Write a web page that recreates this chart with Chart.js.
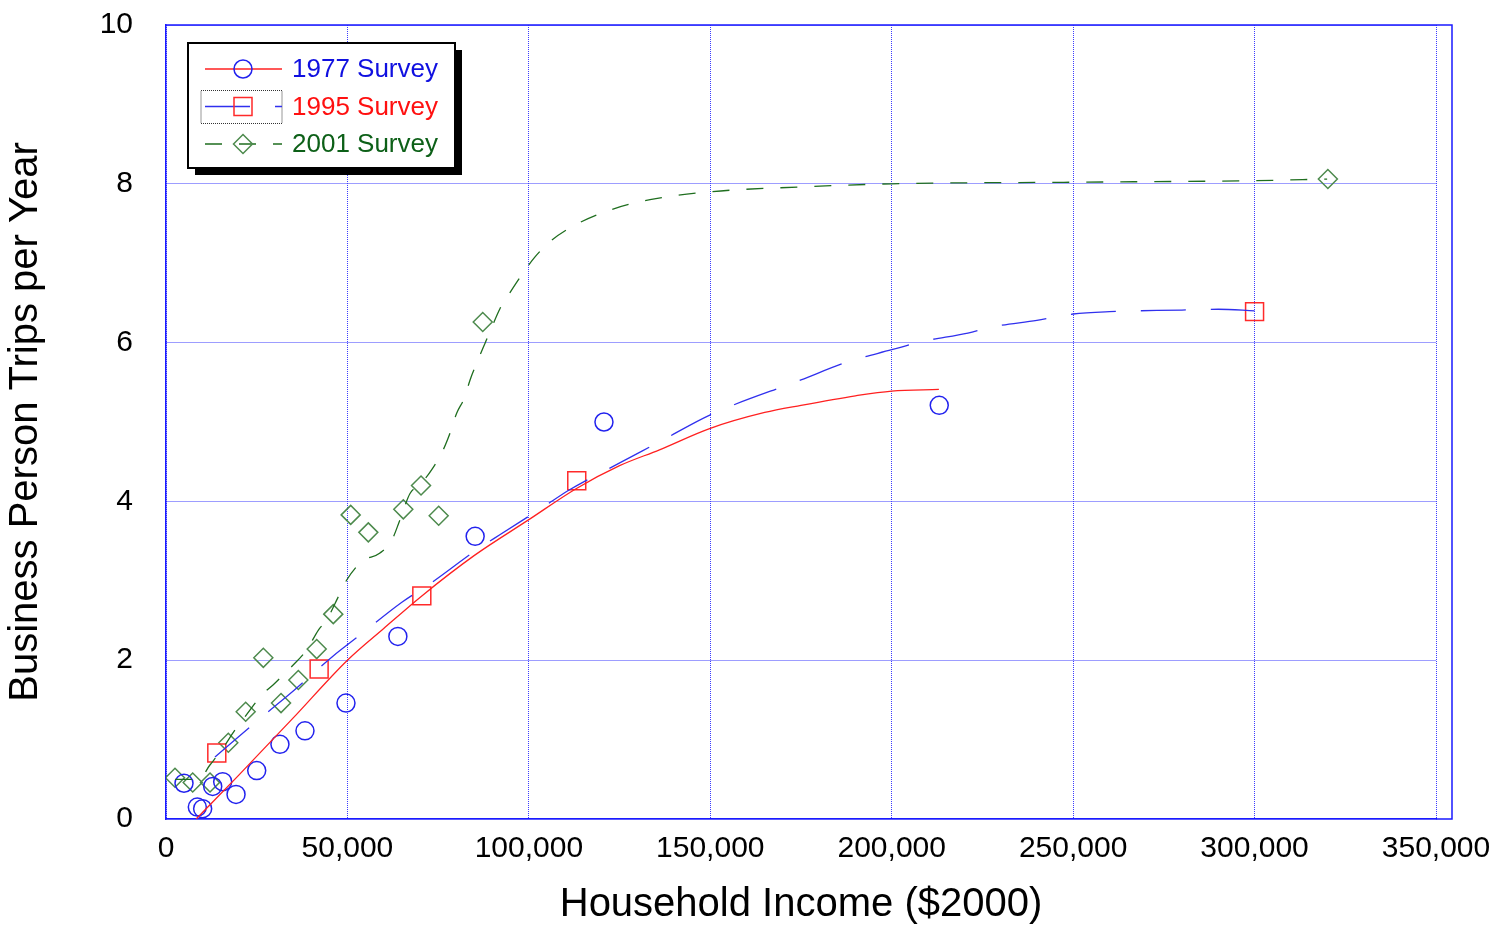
<!DOCTYPE html>
<html>
<head>
<meta charset="utf-8">
<title>Business Person Trips per Year</title>
<script src="https://cdn.jsdelivr.net/npm/chart.js@4.4.1/dist/chart.umd.min.js"></script>
<style>
  body { margin: 0; background: #fff; }
  canvas { display: block; }
</style>
</head>
<body>
<canvas id="trips-chart" width="1499" height="929"></canvas>
<script>
// Survey points (income in $2000, trips per year)
const survey1977X = [4960, 8630, 10100, 12870, 15620, 19300, 25000, 31400, 38300, 49600, 63900, 85200, 120700, 213100];
const survey1977Y = [0.45, 0.15, 0.13, 0.41, 0.47, 0.31, 0.61, 0.94, 1.11, 1.46, 2.30, 3.56, 5.00, 5.21];

const survey1995X = [14000, 42200, 70500, 113200, 300000];
const survey1995Y = [0.83, 1.89, 2.81, 4.26, 6.39];

const survey2001X = [2480, 7360, 12130, 17170, 21960, 26820, 31700, 36470, 41530, 46100, 50900, 55760, 65400, 70280, 75150, 87290, 320200];
const survey2001Y = [0.52, 0.46, 0.46, 0.96, 1.35, 2.03, 1.46, 1.75, 2.14, 2.58, 3.83, 3.61, 3.90, 4.20, 3.82, 6.26, 8.06];

// Fitted curves
const fit1977X = [8300, 20000, 35000, 50000, 60000, 70500, 85000, 100000, 113000, 125000, 136000, 150000, 165000, 175000, 190000, 200000, 213000];
const fit1977Y = [0, 0.55, 1.27, 2.0, 2.4, 2.81, 3.32, 3.77, 4.16, 4.45, 4.65, 4.92, 5.12, 5.21, 5.33, 5.39, 5.41];

const fit1995X = [13500, 26000, 34000, 46000, 53000, 65000, 73000, 85000, 92000, 104000, 111000, 124000, 136000, 150000, 175000, 188000, 200000, 208000, 221000, 228000, 240000, 250000, 260000, 280000, 290000, 300000];
const fit1995Y = [0.78, 1.27, 1.57, 2.05, 2.30, 2.73, 2.97, 3.37, 3.58, 3.93, 4.14, 4.46, 4.75, 5.09, 5.53, 5.76, 5.91, 6.01, 6.12, 6.20, 6.28, 6.36, 6.39, 6.41, 6.42, 6.40];

const fit2001X = [2500, 9000, 12100, 15350, 19000, 21800, 26400, 30000, 34650, 38780, 42000, 44300, 47500, 49800, 53900, 58980, 62200, 64500, 67250, 70000, 73240, 76400, 78280, 80100, 82200, 83800, 85800, 87900, 89750, 92060, 94800, 98300, 101700, 106300, 112700, 122400, 133400, 150000, 174700, 200000, 250000, 300000, 320000];
const fit2001Y = [0.5, 0.5, 0.68, 0.87, 1.12, 1.29, 1.56, 1.71, 1.92, 2.13, 2.38, 2.51, 2.80, 3.01, 3.24, 3.35, 3.51, 3.77, 4.10, 4.21, 4.40, 4.65, 4.86, 5.11, 5.30, 5.53, 5.76, 5.99, 6.19, 6.43, 6.63, 6.87, 7.08, 7.29, 7.48, 7.67, 7.80, 7.90, 7.96, 8.0, 8.02, 8.04, 8.06];

const xTicks = [0, 50000, 100000, 150000, 200000, 250000, 300000, 350000];
const yTicks = [0, 2, 4, 6, 8, 10];

const axisBlue = '#1a1aff';
const gridBlue = '#3b3bff';
const font = "'Liberation Sans', Arial, Helvetica, sans-serif";

const toPoints = (xs, ys) => xs.map((x, i) => ({ x: x, y: ys[i] }));

// legend rows: line colour/dash + marker + text colour
const legendRows = [
  { label: '1977 Survey', line: '#ff2020', dash: [], marker: 'circle', markerColor: '#2222ee', text: '#1010e0' },
  { label: '1995 Survey', line: '#3030ee', dash: [45, 25], marker: 'rect', markerColor: '#ff2a2a', text: '#ff1010', focus: true },
  { label: '2001 Survey', line: '#1f6e1f', dash: [17, 17], marker: 'rectRot', markerColor: '#4d8a4d', text: '#0d6018' }
];

function drawMarker(ctx, style, x, y) {
  ctx.beginPath();
  if (style === 'circle') {
    ctx.arc(x, y, 9, 0, Math.PI * 2);
  } else if (style === 'rect') {
    ctx.rect(x - 9, y - 9, 18, 18);
  } else {
    ctx.moveTo(x - 9.5, y);
    ctx.lineTo(x, y - 9.5);
    ctx.lineTo(x + 9.5, y);
    ctx.lineTo(x, y + 9.5);
    ctx.closePath();
  }
  ctx.stroke();
}

const frameAndLegend = {
  id: 'frameAndLegend',
  afterDraw(chart) {
    const { ctx, chartArea: a } = chart;
    ctx.save();

    // solid top edge and the outer right frame
    ctx.strokeStyle = axisBlue;
    ctx.lineWidth = 1.5;
    ctx.setLineDash([]);
    ctx.beginPath();
    ctx.moveTo(a.left, a.top);
    ctx.lineTo(a.right + 16, a.top);
    ctx.lineTo(a.right + 16, a.bottom);
    ctx.lineTo(a.right, a.bottom);
    ctx.stroke();

    // legend box with shadow
    const bx = a.left + 22, by = a.top + 18, bw = 267, bh = 125;
    ctx.fillStyle = '#000';
    ctx.fillRect(bx + 7, by + 7, bw, bh);
    ctx.fillStyle = '#fff';
    ctx.fillRect(bx, by, bw, bh);
    ctx.strokeStyle = '#000';
    ctx.lineWidth = 2;
    ctx.strokeRect(bx, by, bw, bh);

    legendRows.forEach((row, i) => {
      const y = by + 26 + i * 37.5;
      const x0 = bx + 17, x1 = bx + 94, mx = bx + 55;

      if (row.focus) {
        ctx.strokeStyle = '#333';
        ctx.lineWidth = 1;
        ctx.setLineDash([1, 1]);
        ctx.strokeRect(x0 - 4, y - 16, x1 - x0 + 4, 33);
      }

      ctx.strokeStyle = row.line;
      ctx.lineWidth = 1.3;
      ctx.setLineDash(row.dash);
      ctx.beginPath();
      ctx.moveTo(x0, y);
      ctx.lineTo(x1, y);
      ctx.stroke();

      ctx.setLineDash([]);
      ctx.strokeStyle = row.markerColor;
      ctx.lineWidth = 1.5;
      drawMarker(ctx, row.marker, mx, y);

      ctx.fillStyle = row.text;
      ctx.font = '26px ' + font;
      ctx.textBaseline = 'middle';
      ctx.textAlign = 'left';
      ctx.fillText(row.label, bx + 104, y + 1);
    });

    ctx.restore();
  }
};

new Chart(document.getElementById('trips-chart'), {
  type: 'scatter',
  data: {
    datasets: [
      {
        label: '1977 fit',
        data: toPoints(fit1977X, fit1977Y),
        showLine: true,
        pointRadius: 0,
        borderColor: '#ff2020',
        borderWidth: 1.3,
        cubicInterpolationMode: 'monotone'
      },
      {
        label: '1995 fit',
        data: toPoints(fit1995X, fit1995Y),
        showLine: true,
        pointRadius: 0,
        borderColor: '#3030ee',
        borderWidth: 1.3,
        borderDash: [45, 25],
        cubicInterpolationMode: 'monotone'
      },
      {
        label: '2001 fit',
        data: toPoints(fit2001X, fit2001Y),
        showLine: true,
        pointRadius: 0,
        borderColor: '#1f6e1f',
        borderWidth: 1.3,
        borderDash: [17, 17],
        cubicInterpolationMode: 'monotone'
      },
      {
        label: '1977 Survey',
        data: toPoints(survey1977X, survey1977Y),
        pointStyle: 'circle',
        pointRadius: 9,
        borderColor: '#2222ee',
        backgroundColor: 'rgba(0,0,0,0)',
        borderWidth: 1.5
      },
      {
        label: '1995 Survey',
        data: toPoints(survey1995X, survey1995Y),
        pointStyle: 'rect',
        pointRadius: 12.7,
        borderColor: '#ff2a2a',
        backgroundColor: 'rgba(0,0,0,0)',
        borderWidth: 1.5
      },
      {
        label: '2001 Survey',
        data: toPoints(survey2001X, survey2001Y),
        pointStyle: 'rectRot',
        pointRadius: 9.5,
        borderColor: '#4d8a4d',
        backgroundColor: 'rgba(0,0,0,0)',
        borderWidth: 1.5
      }
    ]
  },
  options: {
    responsive: false,
    animation: false,
    events: [],
    layout: {
      padding: { left: 0, top: 25, right: 63, bottom: 0 }
    },
    plugins: {
      legend: { display: false },
      tooltip: { enabled: false }
    },
    scales: {
      x: {
        type: 'linear',
        min: xTicks[0],
        max: xTicks[xTicks.length - 1],
        afterFit: s => { s.height = 110; s.paddingLeft = 0; s.paddingRight = 0; },
        afterBuildTicks: s => { s.ticks = xTicks.map(v => ({ value: v })); },
        ticks: {
          color: '#000',
          padding: 12,
          maxRotation: 0,
          font: { family: font, size: 30 },
          callback: v => v.toLocaleString('en-US')
        },
        grid: { color: gridBlue, lineWidth: 1, drawTicks: false },
        border: { color: axisBlue, width: 1.5, dash: [1, 1] },
        title: {
          display: true,
          text: 'Household Income ($2000)',
          color: '#000',
          font: { family: font, size: 40 },
          padding: { top: 0, bottom: 0 }
        }
      },
      y: {
        type: 'linear',
        min: yTicks[0],
        max: yTicks[yTicks.length - 1],
        afterFit: s => { s.width = 166; s.paddingTop = 0; s.paddingBottom = 0; },
        afterBuildTicks: s => { s.ticks = yTicks.map(v => ({ value: v })); },
        ticks: {
          color: '#000',
          padding: 33,
          font: { family: font, size: 30 }
        },
        grid: { color: gridBlue, lineWidth: 1, drawTicks: false },
        border: { color: axisBlue, width: 1.5, dash: [1, 1] },
        title: {
          display: true,
          text: 'Business Person Trips per Year',
          color: '#000',
          font: { family: font, size: 40 },
          padding: { top: 2, bottom: 0 }
        }
      }
    }
  },
  plugins: [frameAndLegend]
});
</script>
</body>
</html>
